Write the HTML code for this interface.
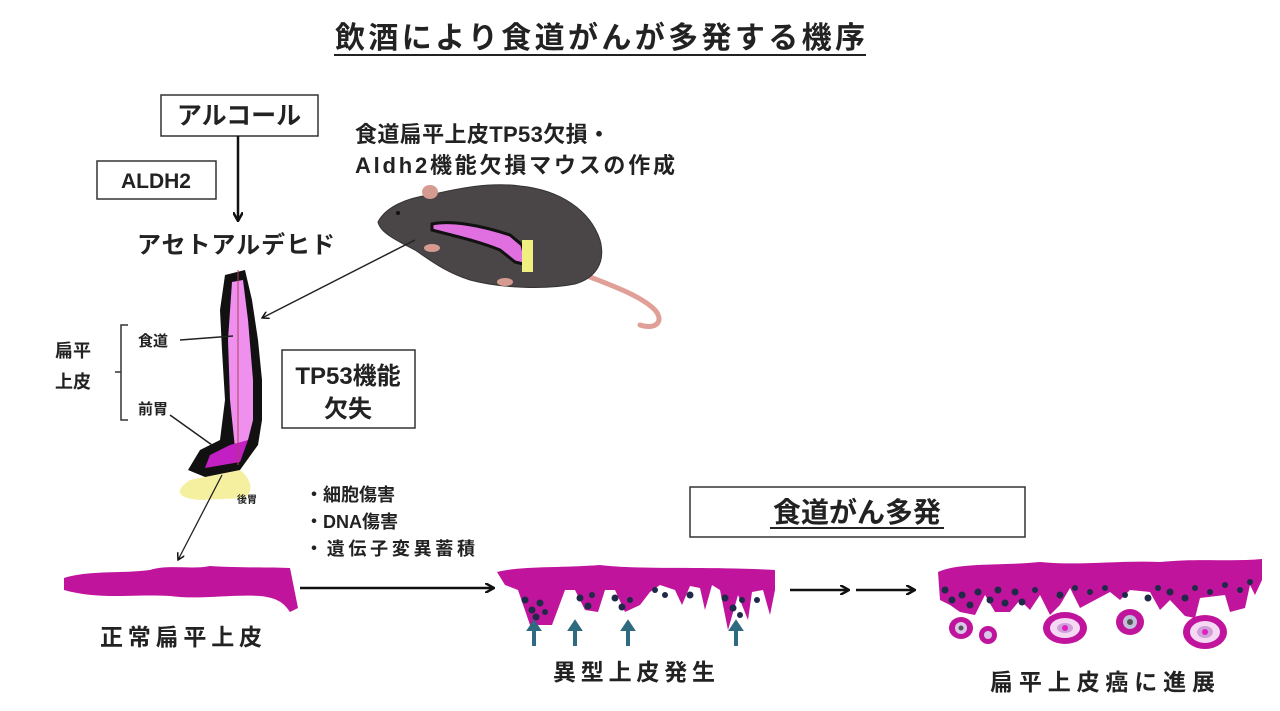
<!DOCTYPE html>
<html><head><meta charset="utf-8"><style>
html,body{margin:0;padding:0;background:#fff;}
svg{display:block;}
text{font-family:"Liberation Sans","Noto Sans CJK JP",sans-serif;font-weight:bold;fill:#222;}
</style></head><body>
<svg width="1280" height="711" viewBox="0 0 1280 711" xmlns="http://www.w3.org/2000/svg">
<defs>
<marker id="ah" markerWidth="10" markerHeight="10" refX="8" refY="5" orient="auto" markerUnits="userSpaceOnUse"><path d="M0,0 L9,5 L0,10" fill="none" stroke="#111" stroke-width="2.5"/></marker>
<marker id="ahs" markerWidth="8" markerHeight="8" refX="7" refY="4" orient="auto" markerUnits="userSpaceOnUse"><path d="M0,0 L7,4 L0,8" fill="none" stroke="#111" stroke-width="1.5"/></marker>
</defs>
<text x="600" y="48" font-size="30" text-anchor="middle" textLength="530">飲酒により食道がんが多発する機序</text>
<line x1="334" y1="55" x2="866" y2="55" stroke="#222" stroke-width="2"/>

<rect x="161" y="95" width="157" height="41" fill="#fff" stroke="#333" stroke-width="1.5"/>
<text x="239" y="124" font-size="25" text-anchor="middle" font-weight="normal">アルコール</text>
<rect x="97" y="161" width="119" height="38" fill="#fff" stroke="#333" stroke-width="1.5"/>
<text x="156" y="188" font-size="21" text-anchor="middle">ALDH2</text>
<line x1="238" y1="136" x2="238" y2="220" stroke="#111" stroke-width="2.5" marker-end="url(#ah)"/>
<text x="236" y="253" font-size="24" text-anchor="middle" font-weight="normal" textLength="198">アセトアルデヒド</text>

<text x="355" y="142" font-size="22" textLength="255">食道扁平上皮TP53欠損・</text>
<text x="355" y="173" font-size="22" textLength="320">Aldh2機能欠損マウスの作成</text>

<path d="M585,275 C610,285 640,295 655,310 C665,322 655,330 640,325" fill="none" stroke="#e0a098" stroke-width="5" stroke-linecap="round"/>
<path d="M378,222 C385,208 405,198 430,195 C460,188 490,182 520,186 C560,190 590,210 600,240 C606,262 596,278 575,284 C545,290 500,288 470,280 C445,272 430,260 415,250 C395,240 380,232 378,222 Z" fill="#4a4547" stroke="#333"/>
<ellipse cx="430" cy="192" rx="8" ry="7" fill="#d59a90"/>
<ellipse cx="432" cy="248" rx="8" ry="4" fill="#d59a90"/>
<ellipse cx="505" cy="282" rx="8" ry="4" fill="#d59a90"/>
<circle cx="398" cy="213" r="2" fill="#111"/>
<path d="M432,224 C450,220 480,225 510,235 L522,245 L527,265 L515,262 L500,250 C475,240 450,235 432,230 Z" fill="#e070e0" stroke="#111" stroke-width="3"/>
<rect x="522" y="240" width="11" height="32" fill="#f0f080"/>
<line x1="415" y1="240" x2="262" y2="318" stroke="#222" stroke-width="1.5" marker-end="url(#ahs)"/>

<path d="M190,480 C175,490 175,498 200,500 L245,498 C255,490 250,478 240,470 Z" fill="#f5f0a0"/>
<path d="M225,275 L245,270 L252,300 L258,340 L262,380 L262,420 L258,445 L240,470 L205,477 L188,470 L200,450 L220,440 L225,400 L222,350 L220,310 Z" fill="#111"/>
<path d="M232,282 L243,280 L248,320 L253,380 L253,420 L248,440 L235,448 L230,400 L228,340 Z" fill="#ef90ef"/>
<path d="M230,445 L248,440 L240,462 L205,468 L210,455 Z" fill="#c320c3"/>
<line x1="238" y1="270" x2="238" y2="465" stroke="#b04060" stroke-width="1"/>
<line x1="180" y1="340" x2="233" y2="336" stroke="#222" stroke-width="1.5"/>
<line x1="170" y1="415" x2="212" y2="445" stroke="#222" stroke-width="1.5"/>
<line x1="222" y1="475" x2="178" y2="560" stroke="#222" stroke-width="1.3" marker-end="url(#ahs)"/>
<text x="237" y="503" font-size="10">後胃</text>
<text x="55" y="357" font-size="18">扁平</text>
<text x="55" y="388" font-size="18">上皮</text>
<path d="M128,325 L121,325 L121,420 L128,420 M121,372 L115,372" fill="none" stroke="#333" stroke-width="1.5"/>
<text x="138" y="346" font-size="15">食道</text>
<text x="138" y="414" font-size="15">前胃</text>

<rect x="282" y="350" width="133" height="78" fill="#fff" stroke="#333" stroke-width="1.5"/>
<text x="348" y="384" font-size="24" text-anchor="middle">TP53機能</text>
<text x="348" y="417" font-size="24" text-anchor="middle">欠失</text>

<text x="305" y="501" font-size="18">・細胞傷害</text>
<text x="305" y="528" font-size="18">・DNA傷害</text>
<text x="305" y="555" font-size="18" textLength="170">・遺伝子変異蓄積</text>

<rect x="690" y="487" width="335" height="50" fill="#fff" stroke="#333" stroke-width="1.5"/>
<text x="857" y="522" font-size="28" text-anchor="middle">食道がん多発</text>
<line x1="770" y1="528" x2="944" y2="528" stroke="#222" stroke-width="2"/>

<path d="M64,578 C90,570 120,574 150,570 C170,564 190,570 210,566 C240,568 270,567 290,568 L298,608 L290,612 C285,605 280,598 260,596 C230,594 200,600 170,596 C130,594 100,600 64,590 Z" fill="#c0149c"/>
<text x="100" y="645" font-size="23" textLength="162">正常扁平上皮</text>
<line x1="300" y1="588" x2="493" y2="588" stroke="#111" stroke-width="2.5" marker-end="url(#ah)"/>

<path d="M497,572 C520,566 560,568 600,565 C640,570 700,566 775,570 L775,590 L770,615 L763,590 L752,592 L748,620 L738,595 L728,630 L720,590 L712,585 L705,610 L700,588 L690,586 L682,605 L675,590 L660,585 L650,592 L640,605 L625,612 L615,590 L605,590 L598,612 L585,610 L575,590 L565,590 L552,625 L530,625 L518,590 L505,585 Z" fill="#c0149c"/>
<g fill="#1e2a48">
<circle cx="525" cy="600" r="3.5"/><circle cx="532" cy="610" r="3.5"/><circle cx="540" cy="603" r="3.5"/><circle cx="536" cy="617" r="3.5"/><circle cx="545" cy="612" r="3"/>
<circle cx="580" cy="598" r="3.5"/><circle cx="588" cy="606" r="3.5"/><circle cx="592" cy="595" r="3"/>
<circle cx="615" cy="598" r="3.5"/><circle cx="622" cy="607" r="3.5"/><circle cx="630" cy="600" r="3"/>
<circle cx="655" cy="590" r="3"/><circle cx="665" cy="595" r="3"/><circle cx="690" cy="595" r="3.5"/>
<circle cx="725" cy="598" r="3.5"/><circle cx="733" cy="608" r="3.5"/><circle cx="742" cy="600" r="3"/><circle cx="740" cy="615" r="3"/><circle cx="757" cy="600" r="3"/>
</g>
<g fill="#2e6a80" stroke="#2e6a80" stroke-width="2">
<path d="M533,645 L533,630 L528,630 L534,621 L540,630 L535,630 L535,645 Z"/>
<path d="M574,645 L574,630 L569,630 L575,621 L581,630 L576,630 L576,645 Z"/>
<path d="M627,645 L627,630 L622,630 L628,621 L634,630 L629,630 L629,645 Z"/>
<path d="M735,645 L735,630 L730,630 L736,621 L742,630 L737,630 L737,645 Z"/>
</g>
<text x="553" y="680" font-size="23" textLength="162">異型上皮発生</text>

<line x1="790" y1="590" x2="848" y2="590" stroke="#111" stroke-width="2.5" marker-end="url(#ah)"/>
<line x1="856" y1="590" x2="914" y2="590" stroke="#111" stroke-width="2.5" marker-end="url(#ah)"/>

<path d="M938,572 C960,562 1000,566 1040,562 C1080,566 1120,560 1160,562 C1200,558 1230,562 1262,559 L1262,580 L1255,595 L1250,585 L1245,608 L1230,612 L1225,595 L1200,598 L1195,618 L1185,616 L1170,600 L1160,610 L1150,592 L1130,590 L1120,600 L1110,592 L1095,600 L1080,608 L1070,588 L1060,605 L1050,615 L1040,595 L1030,610 L1020,600 L1010,612 L995,612 L985,595 L975,615 L960,612 L950,605 L940,600 Z" fill="#c0149c"/>
<g fill="#1e2a48">
<circle cx="945" cy="590" r="3.5"/><circle cx="952" cy="600" r="3.5"/><circle cx="962" cy="595" r="3.5"/><circle cx="970" cy="605" r="3.5"/><circle cx="978" cy="592" r="3.5"/>
<circle cx="990" cy="600" r="3.5"/><circle cx="998" cy="590" r="3.5"/><circle cx="1005" cy="603" r="3.5"/><circle cx="1015" cy="592" r="3.5"/><circle cx="1022" cy="602" r="3.5"/>
<circle cx="1035" cy="590" r="3"/><circle cx="1060" cy="595" r="3.5"/><circle cx="1075" cy="588" r="3"/><circle cx="1090" cy="592" r="3"/><circle cx="1105" cy="588" r="3"/>
<circle cx="1125" cy="595" r="3"/><circle cx="1148" cy="598" r="3.5"/><circle cx="1158" cy="588" r="3"/><circle cx="1170" cy="592" r="3.5"/><circle cx="1185" cy="598" r="3.5"/>
<circle cx="1195" cy="588" r="3"/><circle cx="1210" cy="592" r="3"/><circle cx="1225" cy="585" r="3"/><circle cx="1240" cy="590" r="3"/><circle cx="1250" cy="582" r="3"/>
</g>
<g>
<ellipse cx="961" cy="628" rx="12" ry="11" fill="#c0149c"/><ellipse cx="961" cy="628" rx="6" ry="6" fill="#d8c8e8"/><circle cx="961" cy="628" r="2.5" fill="#555"/>
<ellipse cx="988" cy="635" rx="9" ry="9" fill="#c0149c"/><ellipse cx="988" cy="635" rx="4" ry="4" fill="#d8c8e8"/>
<ellipse cx="1065" cy="628" rx="22" ry="16" fill="#c0149c"/><ellipse cx="1065" cy="628" rx="15" ry="10" fill="#f4d8f4"/><ellipse cx="1065" cy="628" rx="8" ry="5" fill="#d0a0d8"/><circle cx="1065" cy="628" r="3" fill="#e020c0"/>
<ellipse cx="1130" cy="622" rx="14" ry="13" fill="#c0149c"/><ellipse cx="1130" cy="622" rx="7" ry="7" fill="#c0c0d8"/><circle cx="1130" cy="622" r="3" fill="#555"/>
<ellipse cx="1205" cy="632" rx="22" ry="17" fill="#c0149c"/><ellipse cx="1205" cy="632" rx="15" ry="11" fill="#f4d8f4"/><ellipse cx="1205" cy="632" rx="8" ry="6" fill="#d0a0d8"/><circle cx="1205" cy="632" r="3" fill="#e020c0"/>
</g>
<text x="990" y="690" font-size="23" textLength="225">扁平上皮癌に進展</text>
</svg>
</body></html>
